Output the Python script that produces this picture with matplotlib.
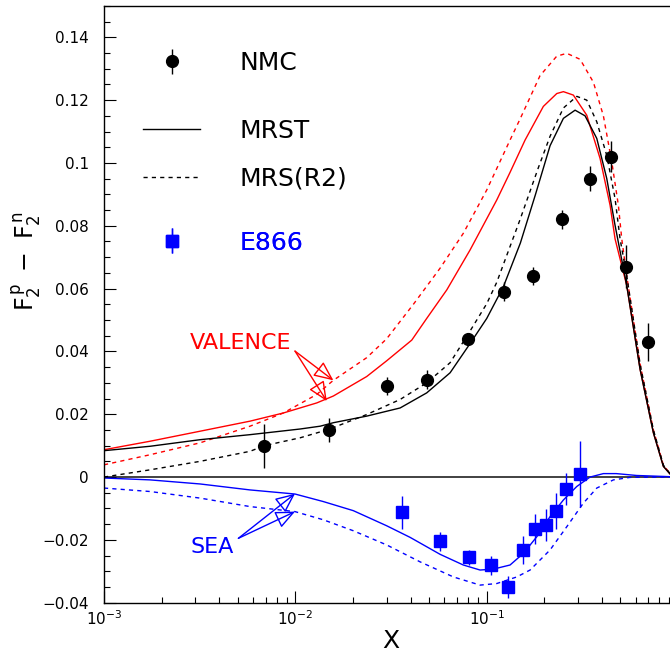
import matplotlib
matplotlib.use("Agg")
import matplotlib.pyplot as plt
from matplotlib.ticker import MultipleLocator, LogLocator, FixedLocator, FuncFormatter, NullFormatter

# NMC data points
nmc_x = [0.0069, 0.015, 0.030, 0.049, 0.080, 0.123, 0.174, 0.247, 0.345, 0.445, 0.538, 0.70]
nmc_y = [0.010, 0.015, 0.029, 0.031, 0.044, 0.059, 0.064, 0.082, 0.095, 0.102, 0.067, 0.043]
nmc_err = [0.007, 0.0038, 0.003, 0.003, 0.002, 0.003, 0.003, 0.003, 0.004, 0.005, 0.0068, 0.006]

# E866 data points
e866_x = [0.036, 0.057, 0.0806, 0.105, 0.130, 0.155, 0.179, 0.205, 0.229, 0.261, 0.308]
e866_y = [-0.0112, -0.0204, -0.0256, -0.0281, -0.0351, -0.0232, -0.0165, -0.0153, -0.0108, -0.0038, 0.0010]
e866_err = [0.0052, 0.003, 0.0025, 0.003, 0.0035, 0.0045, 0.0048, 0.005, 0.0056, 0.005, 0.0104]

# MRST total (black solid)
mrst_x = [0.001, 0.00174, 0.00318, 0.0058, 0.0106, 0.0135, 0.0158, 0.0236, 0.0353, 0.0486, 0.0644,
          0.0819, 0.1001, 0.1223, 0.15, 0.18, 0.2145, 0.2518, 0.2898, 0.3268, 0.3763, 0.4244,
          0.469, 0.5399, 0.6337, 0.7437, 0.8387, 0.93, 1.0]
mrst_y = [0.0084, 0.0098, 0.0119, 0.0135, 0.0153, 0.0162, 0.0173, 0.0194, 0.0220, 0.0268, 0.0332,
          0.0425, 0.0505, 0.0606, 0.0745, 0.0900, 0.1055, 0.1142, 0.1168, 0.1150, 0.1078, 0.0950,
          0.0801, 0.0609, 0.0343, 0.0141, 0.0034, 0.0003, 0.0]

# MRS(R2) total (black dashed)
mrs_x = [0.001, 0.00174, 0.00318, 0.0058, 0.0069, 0.0106, 0.015, 0.0236, 0.0353, 0.0486, 0.0644,
         0.0819, 0.1001, 0.1129, 0.1495, 0.1863, 0.2145, 0.2518, 0.2958, 0.3335, 0.3763, 0.4244,
         0.469, 0.498, 0.5399, 0.6337, 0.7437, 0.8387, 0.93, 1.0]
mrs_y = [0.0, 0.0023, 0.0050, 0.0082, 0.0100, 0.0125, 0.0152, 0.0199, 0.0247, 0.0300, 0.0364,
         0.0465, 0.0552, 0.0620, 0.0820, 0.0985, 0.1085, 0.1175, 0.1212, 0.1200, 0.1131, 0.1024,
         0.0886, 0.0758, 0.0640, 0.0360, 0.0150, 0.0038, 0.0003, 0.0]

# MRST valence (red solid)
mrst_val_x = [0.001, 0.00174, 0.00318, 0.0058, 0.00866, 0.01294, 0.0158, 0.0236, 0.0300, 0.0406,
              0.0486, 0.0619, 0.0819, 0.1129, 0.1325, 0.1588, 0.1978, 0.2325, 0.2518, 0.2839,
              0.3335, 0.3916, 0.4417, 0.469, 0.5399, 0.6337, 0.7437, 0.8387, 0.93, 1.0]
mrst_val_y = [0.0087, 0.0114, 0.0146, 0.0178, 0.0204, 0.0236, 0.0258, 0.0320, 0.0370, 0.0436,
              0.0505, 0.0596, 0.0723, 0.0882, 0.0970, 0.1073, 0.1180, 0.1221, 0.1227, 0.1216,
              0.1152, 0.1014, 0.0865, 0.0758, 0.0609, 0.0343, 0.0141, 0.0034, 0.0003, 0.0]

# MRS(R2) valence (red dashed)
mrs_val_x = [0.001, 0.00174, 0.00318, 0.0058, 0.00866, 0.01294, 0.0158, 0.0236, 0.0300, 0.0414,
             0.0571, 0.0755, 0.1001, 0.1325, 0.1495, 0.1901, 0.2325, 0.2623, 0.3078, 0.3613,
             0.4074, 0.4508, 0.488, 0.5083, 0.5399, 0.6337, 0.7437, 0.8387, 0.93, 1.0]
mrs_val_y = [0.0039, 0.0071, 0.0109, 0.0162, 0.0204, 0.0263, 0.0308, 0.0380, 0.0440, 0.0550,
             0.0665, 0.0776, 0.0914, 0.1073, 0.1140, 0.1278, 0.1340, 0.1349, 0.1330, 0.1257,
             0.1150, 0.1003, 0.0865, 0.0758, 0.0640, 0.0360, 0.0150, 0.0038, 0.0003, 0.0]

# MRST sea (blue solid)
mrst_sea_x = [0.001, 0.00174, 0.00318, 0.0058, 0.00996, 0.0140, 0.0201, 0.0300, 0.0398, 0.0571,
              0.0755, 0.0924, 0.1084, 0.1325, 0.1555, 0.1828, 0.2145, 0.2518, 0.2958, 0.347,
              0.4074, 0.4756, 0.6087, 0.8387, 1.0]
mrst_sea_y = [-0.0003, -0.0009, -0.0022, -0.0041, -0.0054, -0.0078, -0.0107, -0.0155, -0.0192, -0.0246,
              -0.0280, -0.0296, -0.0293, -0.0280, -0.0243, -0.0190, -0.0126, -0.0073, -0.0030, 0.0,
              0.0011, 0.0011, 0.0005, 0.0002, 0.0]

# MRS(R2) sea (blue dashed)
mrs_sea_x = [0.001, 0.00174, 0.00318, 0.0058, 0.00996, 0.0140, 0.0201, 0.0300, 0.0449, 0.067,
             0.0924, 0.1129, 0.1437, 0.1686, 0.2145, 0.2623, 0.3202, 0.3763, 0.4596, 0.5619, 0.8, 1.0]
mrs_sea_y = [-0.0035, -0.0046, -0.0067, -0.0094, -0.0110, -0.0136, -0.0171, -0.0216, -0.0270, -0.0318,
             -0.0344, -0.0339, -0.0318, -0.0296, -0.0232, -0.0158, -0.0083, -0.0035, -0.0009, -0.0001, 0.0, 0.0]

x_major = [1e-3, 1e-2, 1e-1]

DASH = (0, (3, 3))


def fmt_y(v, pos):
    return ('%g' % round(v, 4)).replace('-', '\u2212')


def main():
    fig = plt.figure(figsize=(6.7, 6.56), dpi=100)
    # right edge (x=1) falls just outside the picture, as in the original
    ax = fig.add_axes([104 / 670, 53.3 / 656, 574 / 670, 596.8 / 656])

    ax.axhline(0, color='#333333', lw=1.3, zorder=1)

    ax.plot(mrst_sea_x, mrst_sea_y, color='blue', lw=1.0)
    ax.plot(mrs_sea_x, mrs_sea_y, color='blue', lw=1.0, linestyle=DASH)
    ax.plot(mrst_val_x, mrst_val_y, color='red', lw=1.0)
    ax.plot(mrs_val_x, mrs_val_y, color='red', lw=1.0, linestyle=DASH)
    mrst_line, = ax.plot(mrst_x, mrst_y, color='black', lw=1.0)
    mrs_line, = ax.plot(mrs_x, mrs_y, color='black', lw=1.0, linestyle=DASH)

    nmc = ax.errorbar(nmc_x, nmc_y, yerr=nmc_err, fmt='o', color='black', ms=8.5,
                      elinewidth=1.0, capsize=0, zorder=5)
    e866 = ax.errorbar(e866_x, e866_y, yerr=e866_err, fmt='s', color='blue', ms=8,
                       elinewidth=1.0, capsize=0, zorder=5)

    ax.set_xscale('log')
    ax.set_xlim(1e-3, 1.0)
    ax.set_ylim(-0.04, 0.15)

    ax.yaxis.set_major_locator(MultipleLocator(0.02))
    ax.yaxis.set_minor_locator(MultipleLocator(0.005))
    ax.yaxis.set_major_formatter(FuncFormatter(fmt_y))
    ax.xaxis.set_major_locator(FixedLocator(x_major))
    ax.xaxis.set_minor_locator(LogLocator(base=10, subs=range(2, 10)))
    ax.xaxis.set_minor_formatter(NullFormatter())

    ax.tick_params(which='both', direction='in', top=False, right=False, labelsize=11, width=0.8)
    ax.tick_params(which='major', length=8.5)
    ax.tick_params(which='minor', length=4.5)
    ax.tick_params(axis='y', pad=11)
    ax.tick_params(axis='x', pad=5)
    for s in ax.spines.values():
        s.set_linewidth(1.0)

    ax.set_xlabel('X', fontsize=18)
    ax.xaxis.set_label_coords(0.5, -0.044)
    ax.set_ylabel(r'$\mathregular{F_2^{\,p}\ -\ F_2^{\,n}}$', fontsize=17)
    ax.yaxis.set_label_coords(-0.106, 0.573)

    # legend, one entry at a time (uneven spacing in the original)
    entries = [(nmc, 'NMC', 'black', 0.9045),
               (mrst_line, 'MRST', 'black', 0.790),
               (mrs_line, 'MRS(R2)', 'black', 0.7106),
               (e866, 'E866', 'blue', 0.6034)]
    for handle, label, col, ypos in entries:
        leg = ax.legend([handle], [label], loc='center left', bbox_to_anchor=(0.068, ypos),
                        frameon=False, fontsize=18, handlelength=2.28, handletextpad=1.56,
                        borderpad=0, borderaxespad=0, labelcolor=col, numpoints=1)
        ax.add_artist(leg)

    # VALENCE / SEA labels with arrows
    arrow_style = '-|>,head_length=1.0,head_width=0.45'
    ax.text(0.0052, 0.0428, 'VALENCE', color='red', fontsize=16, ha='center', va='center')
    for tip in [(0.0158, 0.0308), (0.0146, 0.0242)]:
        ax.annotate('', xy=tip, xytext=(0.00996, 0.0401),
                    arrowprops=dict(arrowstyle=arrow_style, ec='red', fc='none', lw=1.0,
                                    shrinkA=0, shrinkB=0, mutation_scale=12))
    ax.text(0.00369, -0.0222, 'SEA', color='blue', fontsize=16, ha='center', va='center')
    for tip in [(0.00996, -0.0053), (0.00996, -0.0110)]:
        ax.annotate('', xy=tip, xytext=(0.00504, -0.0195),
                    arrowprops=dict(arrowstyle=arrow_style, ec='blue', fc='none', lw=1.0,
                                    shrinkA=0, shrinkB=0, mutation_scale=12))

    fig.savefig('out.png', dpi=100)


if __name__ == '__main__':
    main()
